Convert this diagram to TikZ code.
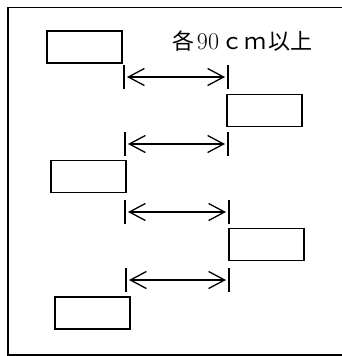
\documentclass[tikz,border=0pt]{standalone}
\usepackage{fontspec}
\newfontfamily\cjk{Noto Sans CJK JP}
\usetikzlibrary{arrows.meta}

\begin{document}
\begin{tikzpicture}[x=1pt, y=-1pt, thick, >={Straight Barb[length=16pt,width=17pt]},
       seat/.style={draw, line width=1.3pt, minimum width=75pt, minimum height=32pt, inner sep=0pt},
       gap/.style={<->, line width=1.3pt, shorten <=3pt, shorten >=3pt},
       tick/.style={line width=1.3pt}]
       \useasboundingbox (0,0) rectangle (342,356);
       % Frame
       \draw[line width=1.8pt] (8,7.5) rectangle (352,355);
       % Nodes
       \node[seat] (s1) at (84.5,47) {};
       \node[seat] (s2) at (264.5,110.5) {};
       \node[seat] (s3) at (88.5,176.5) {};
       \node[seat] (s4) at (266.5,244.5) {};
       \node[seat] (s5) at (92.5,313) {};
       \node[font=\fontsize{22}{26}\selectfont, inner sep=0pt] (note) at (242.5,41)
            {\cjk 各\hspace{2pt}{\rmfamily\fontsize{24}{26}\selectfont 90}\hspace{2pt}ｃ\hspace{1pt}ｍ\hspace{2pt}以上};
       % Ends of the gaps
       \coordinate (l1) at (124,77);  \coordinate (r1) at (228,77);
       \coordinate (l2) at (125,144); \coordinate (r2) at (228,144);
       \coordinate (l3) at (125,212); \coordinate (r3) at (229,212);
       \coordinate (l4) at (126,280); \coordinate (r4) at (229,280);
       % Arrows
       \foreach \i in {1,...,4} {
         \draw[tick] ([yshift=-12pt]l\i) -- ([yshift=12pt]l\i);
         \draw[tick] ([yshift=-12pt]r\i) -- ([yshift=12pt]r\i);
         \draw[gap] (l\i) -- (r\i);
       }
\end{tikzpicture}
\end{document}
